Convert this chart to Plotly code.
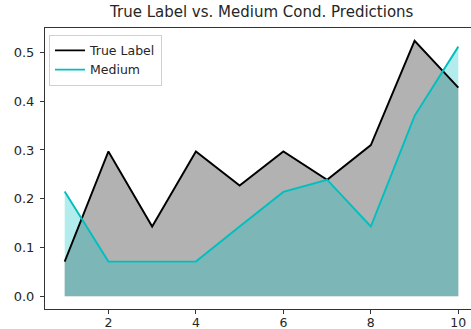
import plotly.graph_objects as go

# Data
steps = [1, 2, 3, 4, 5, 6, 7, 8, 9, 10]
true_label = [0.071, 0.297, 0.143, 0.297, 0.227, 0.297, 0.239, 0.310, 0.524, 0.428]
medium = [0.215, 0.071, 0.071, 0.071, 0.143, 0.214, 0.239, 0.143, 0.370, 0.512]

x_ticks = [2, 4, 6, 8, 10]
y_ticks = [0.0, 0.1, 0.2, 0.3, 0.4, 0.5]

FONT = "DejaVu Sans"
TEXT = "#262626"
SPINE = "#333333"
CYAN = "#00bfbf"

fig = go.Figure()

# Shaded areas under each series
fig.add_trace(go.Scatter(x=steps, y=true_label, mode="lines", fill="tozeroy",
                         fillcolor="rgba(0,0,0,0.3)", line=dict(width=0),
                         showlegend=False, hoverinfo="skip"))
fig.add_trace(go.Scatter(x=steps, y=medium, mode="lines", fill="tozeroy",
                         fillcolor="rgba(0,191,191,0.3)", line=dict(width=0),
                         showlegend=False, hoverinfo="skip"))

# Series lines
fig.add_trace(go.Scatter(x=steps, y=true_label, mode="lines", name="True Label",
                         line=dict(color="black", width=1.9)))
fig.add_trace(go.Scatter(x=steps, y=medium, mode="lines", name="Medium",
                         line=dict(color=CYAN, width=1.9)))

fig.update_layout(
    width=471, height=329,
    margin=dict(l=45, r=0, t=28, b=20, autoexpand=False),
    paper_bgcolor="white", plot_bgcolor="white",
    font=dict(family=FONT, size=13, color=TEXT),
    showlegend=True,
    legend=dict(x=0.0094, y=0.976, xanchor="left", yanchor="top",
                bgcolor="rgba(255,255,255,0.8)", bordercolor="#d0d0d0",
                borderwidth=1, font=dict(family=FONT, size=12.5, color=TEXT),
                tracegroupgap=0, itemwidth=30),
    annotations=[dict(text="True Label vs. Medium Cond. Predictions",
                      xref="paper", yref="paper", x=0.508, y=1.0,
                      xanchor="center", yanchor="bottom", yshift=5,
                      showarrow=False,
                      font=dict(family=FONT, size=15, color=TEXT))],
)

fig.update_xaxes(range=[0.55, 10.29], tickvals=x_ticks,
                 ticktext=[str(v) for v in x_ticks],
                 showgrid=False, zeroline=False, automargin=False,
                 showline=True, linecolor=SPINE, linewidth=1, mirror=True,
                 ticks="outside", ticklen=4, tickwidth=1, tickcolor=SPINE,
                 ticklabelstandoff=-2,
                 tickfont=dict(family=FONT, size=12.5, color=TEXT))
fig.update_yaxes(range=[-0.0262, 0.5502], tickvals=y_ticks,
                 ticktext=[f"{v:.1f}" for v in y_ticks],
                 showgrid=False, zeroline=False, automargin=False,
                 showline=True, linecolor=SPINE, linewidth=1,
                 ticks="outside", ticklen=4, tickwidth=1, tickcolor=SPINE,
                 ticklabelstandoff=3,
                 tickfont=dict(family=FONT, size=13, color=TEXT))

fig.write_html("out.html")
